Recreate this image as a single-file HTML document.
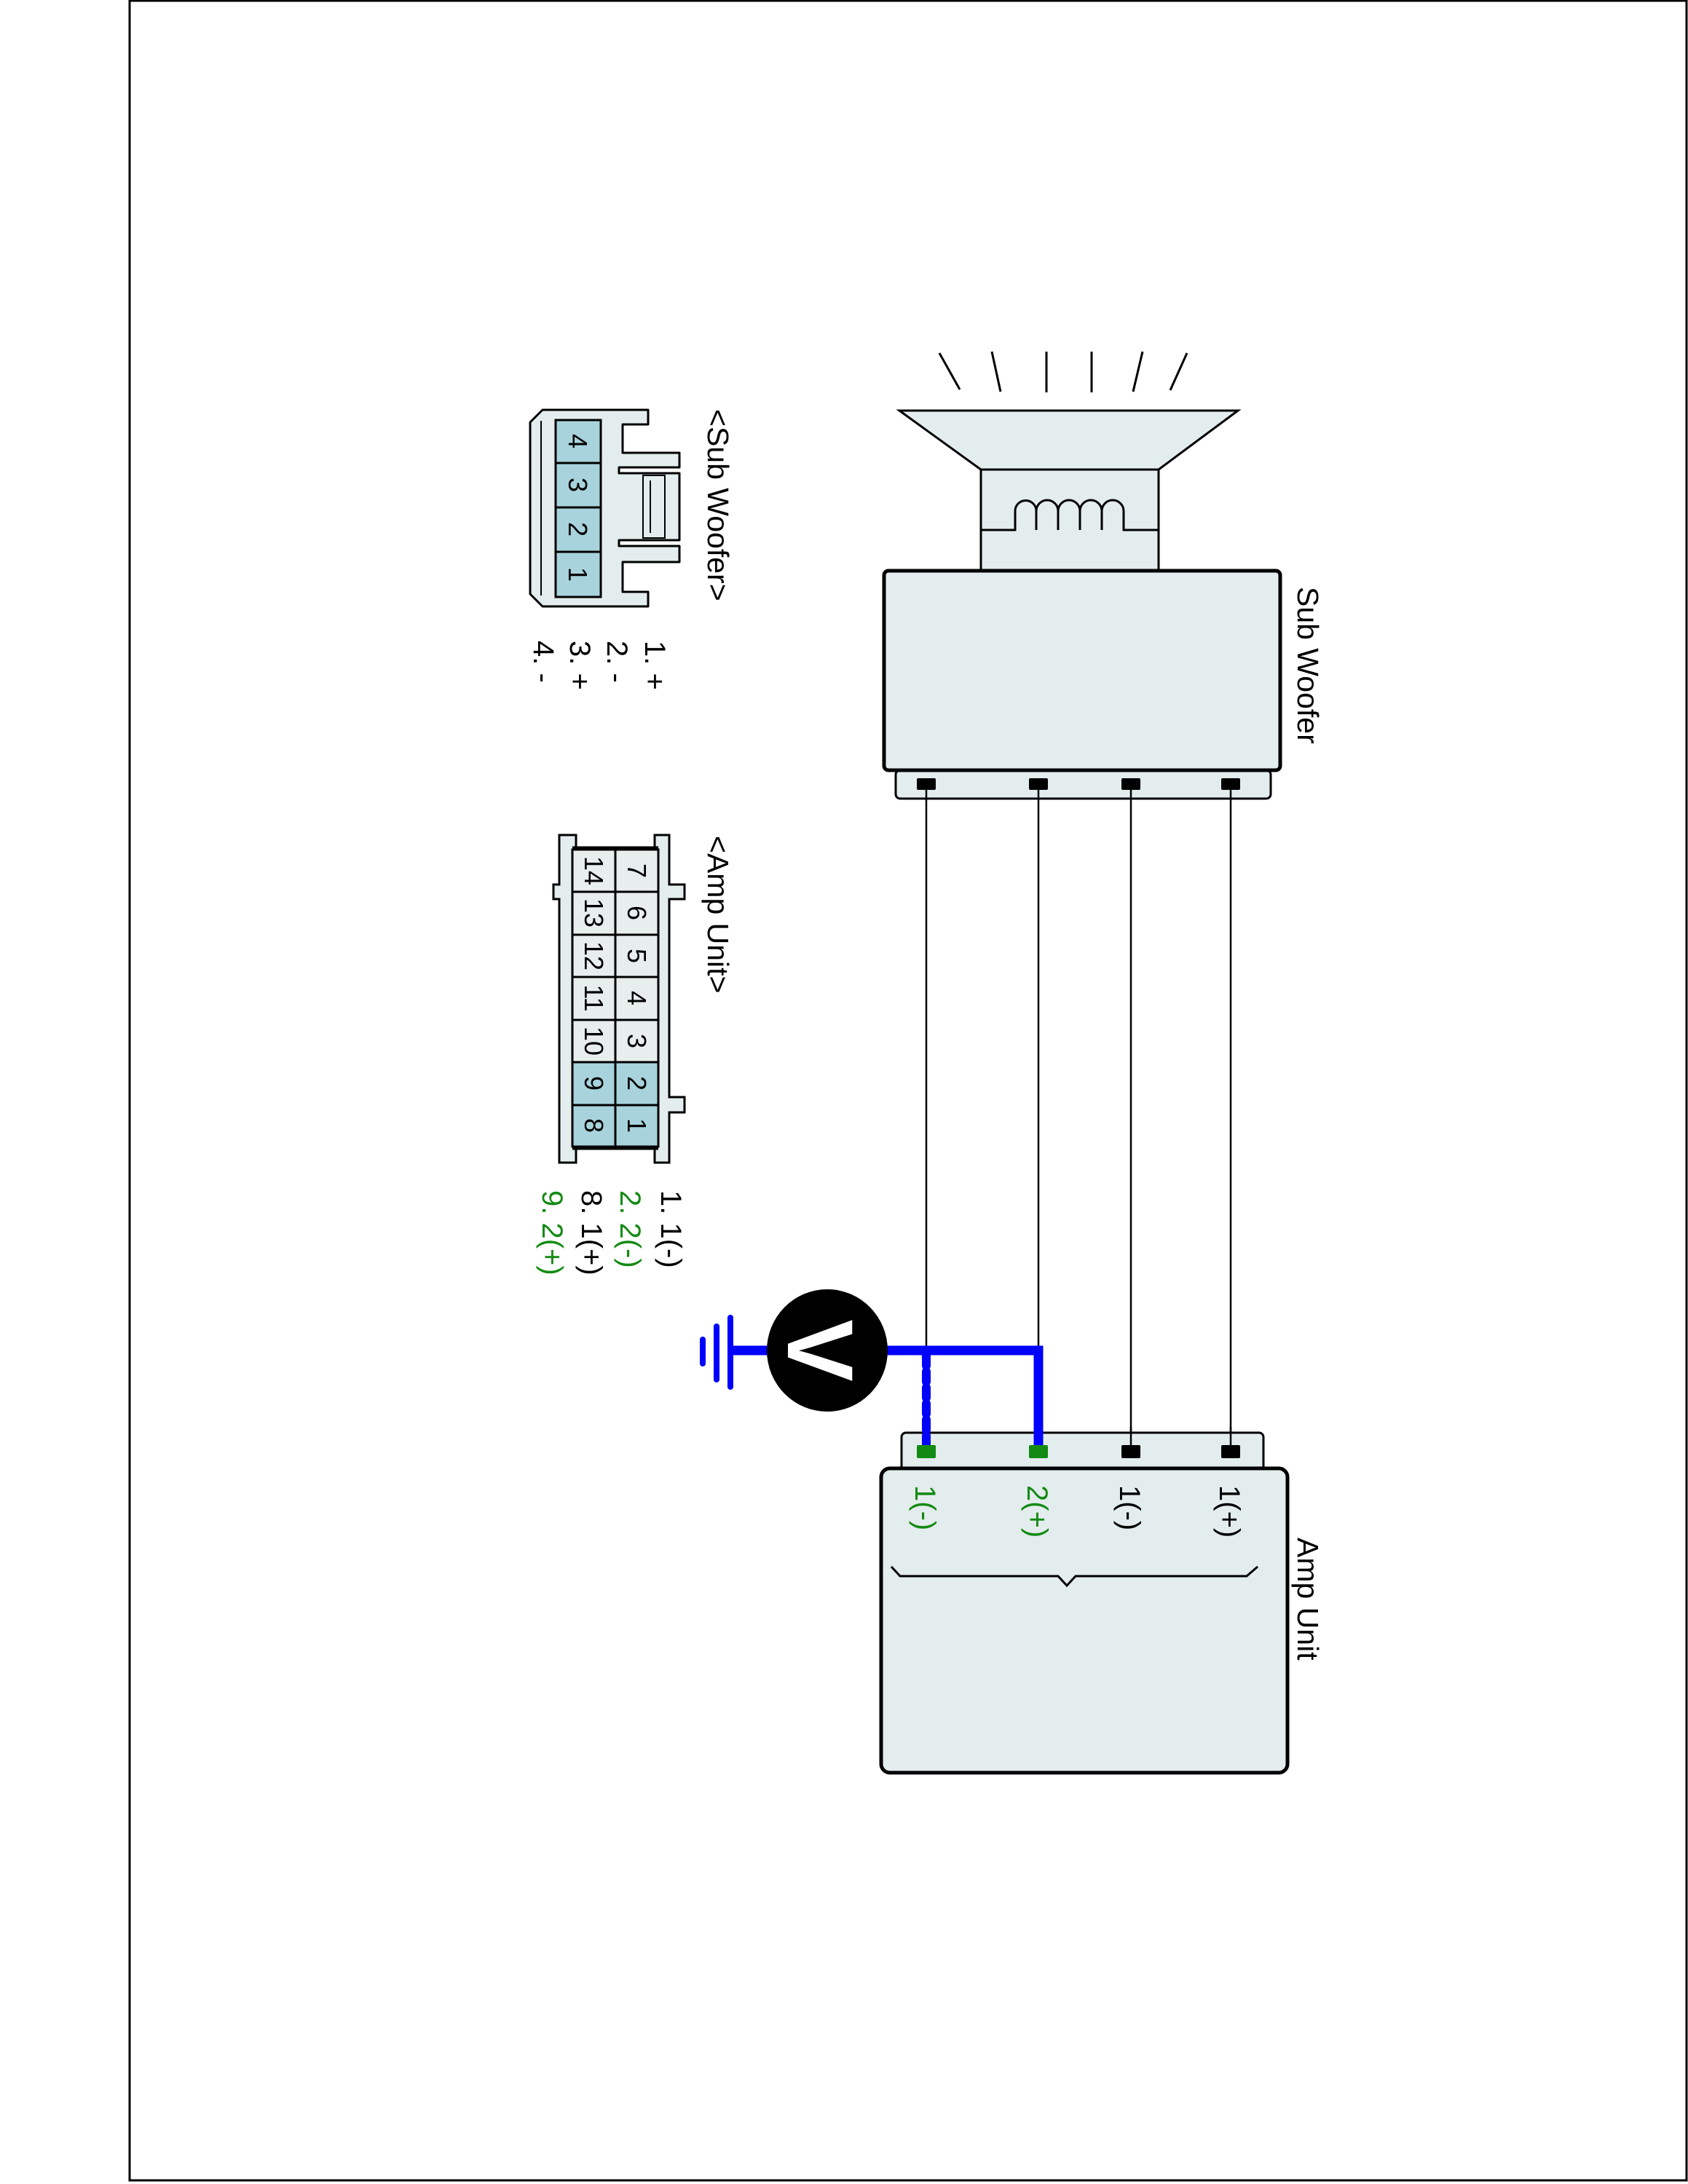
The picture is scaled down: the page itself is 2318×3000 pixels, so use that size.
<!DOCTYPE html>
<html><head><meta charset="utf-8"><style>html,body{margin:0;padding:0;background:#fff}svg{display:block}</style></head>
<body>
<svg width="2318" height="3000" viewBox="0 0 2318 3000" xmlns="http://www.w3.org/2000/svg" font-family="Liberation Sans, Arial, sans-serif">
<rect x="178" y="1" width="2138" height="2994" fill="none" stroke="#000" stroke-width="3"/>

<!-- speaker rays -->
<g stroke="#000" stroke-width="3">
<line x1="1290" y1="485" x2="1318" y2="535"/>
<line x1="1362" y1="483" x2="1374" y2="538"/>
<line x1="1437" y1="483" x2="1437" y2="539"/>
<line x1="1499" y1="483" x2="1499" y2="539"/>
<line x1="1569" y1="483" x2="1556" y2="538"/>
<line x1="1630" y1="485" x2="1607" y2="536"/>
</g>
<polygon points="1235,564 1700,564 1591,645 1347,645" fill="#e4eded" stroke="#000" stroke-width="3"/>
<rect x="1347" y="645" width="244" height="138" fill="#e4eded" stroke="#000" stroke-width="3"/>
<path d="M1347,728 H1394 V702 A14.5,14.5 0 0 1 1423,702 A15,15 0 0 1 1453,702 A15,15 0 0 1 1483,702 A15,15 0 0 1 1513,702 A15,15 0 0 1 1543,702 V728 H1591 M1423,702 V728 M1453,702 V728 M1483,702 V728 M1513,702 V728" fill="none" stroke="#000" stroke-width="3"/>

<!-- Sub woofer box -->
<rect x="1230" y="1058" width="515" height="39" rx="6" fill="#e4eded" stroke="#000" stroke-width="3"/>
<rect x="1214" y="784" width="544" height="274" rx="6" fill="#e4eded" stroke="#000" stroke-width="5"/>
<text transform="translate(1782,806) rotate(90)" font-size="41">Sub Woofer</text>

<!-- wires -->
<g stroke="#000" stroke-width="2.5">
<line x1="1272" y1="1080" x2="1272" y2="1990"/>
<line x1="1426" y1="1080" x2="1426" y2="1990"/>
<line x1="1553" y1="1080" x2="1553" y2="1990"/>
<line x1="1690" y1="1080" x2="1690" y2="1990"/>
</g>
<g fill="#000">
<rect x="1259" y="1069" width="26" height="16" rx="2"/>
<rect x="1413" y="1069" width="26" height="16" rx="2"/>
<rect x="1540" y="1069" width="26" height="16" rx="2"/>
<rect x="1677" y="1069" width="26" height="16" rx="2"/>
</g>

<!-- Amp unit -->
<rect x="1238" y="1968" width="497" height="52" rx="6" fill="#e4eded" stroke="#000" stroke-width="3"/>
<rect x="1210" y="2017" width="558" height="418" rx="12" fill="#e4eded" stroke="#000" stroke-width="5"/>
<g stroke="#000" stroke-width="2.5">
<line x1="1553" y1="1960" x2="1553" y2="1990"/>
<line x1="1690" y1="1960" x2="1690" y2="1990"/>
</g>
<rect x="1540" y="1985" width="26" height="18" rx="2" fill="#000"/>
<rect x="1677" y="1985" width="26" height="18" rx="2" fill="#000"/>
<path d="M1224,2152 L1236,2165 H1453 L1465,2178 L1477,2165 H1712 L1727,2152" fill="none" stroke="#000" stroke-width="3"/>
<g font-size="40">
<text transform="translate(1257,2040) rotate(90)" fill="#138a13">1(-)</text>
<text transform="translate(1411,2040) rotate(90)" fill="#138a13">2(+)</text>
<text transform="translate(1538,2040) rotate(90)">1(-)</text>
<text transform="translate(1675,2040) rotate(90)">1(+)</text>
</g>
<text transform="translate(1782,2112) rotate(90)" font-size="41">Amp Unit</text>

<!-- blue measurement -->
<line x1="1272" y1="1862" x2="1272" y2="1990" stroke="#0000ff" stroke-width="12" stroke-dasharray="14,8" stroke-linecap="round"/>
<polyline points="1000,1855 1426,1855 1426,1990" fill="none" stroke="#0000ff" stroke-width="13"/>
<g stroke="#0000ff" stroke-width="8" stroke-linecap="round">
<line x1="1003" y1="1810" x2="1003" y2="1905"/>
<line x1="984" y1="1822" x2="984" y2="1895"/>
<line x1="965" y1="1840" x2="965" y2="1873"/>
</g>
<rect x="1259" y="1985" width="26" height="18" rx="2" fill="#138a13"/>
<rect x="1413" y="1985" width="26" height="18" rx="2" fill="#138a13"/>
<ellipse cx="1136" cy="1855" rx="83" ry="84" fill="#000"/>
<text transform="translate(1082,1855) rotate(90)" font-size="128" font-weight="bold" fill="#fff" text-anchor="middle">V</text>

<!-- Sub woofer connector -->
<path d="M745,563 H890 V583 H855 V622 H933 V642 H850 V650 H933 V742 H850 V750 H933 V772 H855 V813 H890 V833 H745 L728,816 V580 Z" fill="#e4eded" stroke="#000" stroke-width="3" stroke-linejoin="round"/>
<line x1="743" y1="578" x2="743" y2="818" stroke="#000" stroke-width="2"/>
<rect x="883" y="653" width="30" height="86" fill="none" stroke="#000" stroke-width="2"/>
<line x1="893" y1="660" x2="893" y2="732" stroke="#000" stroke-width="2"/>
<g fill="#a8d3dc" stroke="#000" stroke-width="3">
<rect x="763" y="577" width="62" height="59"/>
<rect x="763" y="636" width="62" height="61"/>
<rect x="763" y="697" width="62" height="61"/>
<rect x="763" y="758" width="62" height="62"/>
</g>
<g font-size="36">
<text transform="translate(781,606) rotate(90)" text-anchor="middle">4</text>
<text transform="translate(781,666) rotate(90)" text-anchor="middle">3</text>
<text transform="translate(781,727) rotate(90)" text-anchor="middle">2</text>
<text transform="translate(781,789) rotate(90)" text-anchor="middle">1</text>
</g>
<text transform="translate(972,562) rotate(90)" font-size="41">&lt;Sub Woofer&gt;</text>
<g font-size="40">
<text transform="translate(886,880) rotate(90)">1. +</text>
<text transform="translate(834,880) rotate(90)">2. -</text>
<text transform="translate(783,880) rotate(90)">3. +</text>
<text transform="translate(733,880) rotate(90)">4. -</text>
</g>

<!-- Amp connector -->
<path d="M768,1147 V1215 H760 V1235 H768 V1597 H791 V1575 H899 V1597 H919 V1528 H940 V1507 H919 V1235 H940 V1215 H919 V1147 H899 V1167 H791 V1147 Z" fill="#e4eded" stroke="#000" stroke-width="3"/>
<line x1="786" y1="1166" x2="904" y2="1166" stroke="#000" stroke-width="7"/>
<line x1="786" y1="1576" x2="904" y2="1576" stroke="#000" stroke-width="7"/>
<g stroke="#000" stroke-width="3">
<rect x="786" y="1167" width="59" height="58" fill="#e8eeee"/><rect x="845" y="1167" width="59" height="58" fill="#e8eeee"/>
<rect x="786" y="1225" width="59" height="59" fill="#e8eeee"/><rect x="845" y="1225" width="59" height="59" fill="#e8eeee"/>
<rect x="786" y="1284" width="59" height="58" fill="#e8eeee"/><rect x="845" y="1284" width="59" height="58" fill="#e8eeee"/>
<rect x="786" y="1342" width="59" height="59" fill="#e8eeee"/><rect x="845" y="1342" width="59" height="59" fill="#e8eeee"/>
<rect x="786" y="1401" width="59" height="58" fill="#e8eeee"/><rect x="845" y="1401" width="59" height="58" fill="#e8eeee"/>
<rect x="786" y="1459" width="59" height="59" fill="#a8d3dc"/><rect x="845" y="1459" width="59" height="59" fill="#a8d3dc"/>
<rect x="786" y="1518" width="59" height="57" fill="#a8d3dc"/><rect x="845" y="1518" width="59" height="57" fill="#a8d3dc"/>
</g>
<g font-size="36" text-anchor="middle">
<text transform="translate(862,1196) rotate(90)">7</text><text transform="translate(803,1196) rotate(90)">14</text>
<text transform="translate(862,1254) rotate(90)">6</text><text transform="translate(803,1254) rotate(90)">13</text>
<text transform="translate(862,1313) rotate(90)">5</text><text transform="translate(803,1313) rotate(90)">12</text>
<text transform="translate(862,1371) rotate(90)">4</text><text transform="translate(803,1371) rotate(90)">11</text>
<text transform="translate(862,1430) rotate(90)">3</text><text transform="translate(803,1430) rotate(90)">10</text>
<text transform="translate(862,1488) rotate(90)">2</text><text transform="translate(803,1488) rotate(90)">9</text>
<text transform="translate(862,1546) rotate(90)">1</text><text transform="translate(803,1546) rotate(90)">8</text>
</g>
<text transform="translate(972,1148) rotate(90)" font-size="41">&lt;Amp Unit&gt;</text>
<g font-size="40">
<text transform="translate(908,1635) rotate(90)">1. 1(-)</text>
<text transform="translate(852,1635) rotate(90)" fill="#138a13">2. 2(-)</text>
<text transform="translate(799,1635) rotate(90)">8. 1(+)</text>
<text transform="translate(745,1635) rotate(90)" fill="#138a13">9. 2(+)</text>
</g>
</svg>
</body></html>
